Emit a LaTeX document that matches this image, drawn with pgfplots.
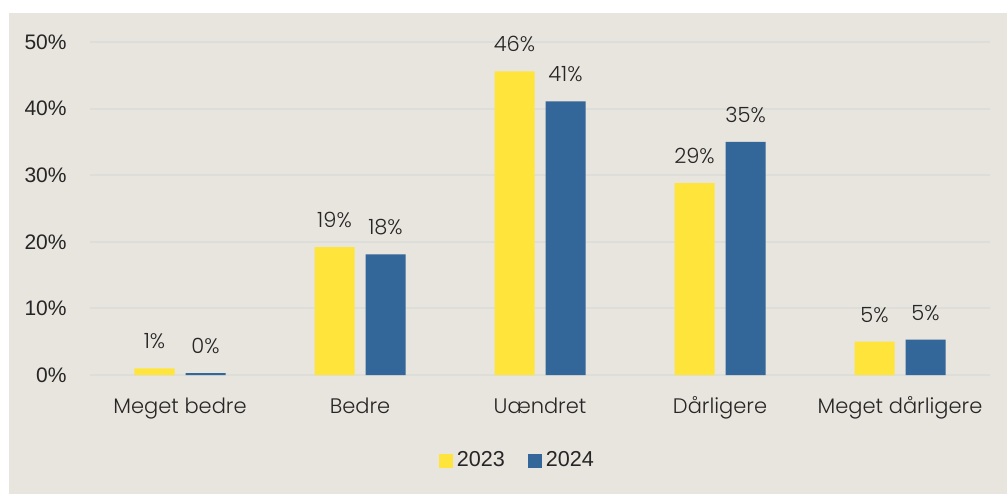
\documentclass[border=0pt]{standalone}
\usepackage{fontspec}
\setmainfont{Poppins}[UprightFont=* Light]
\newfontfamily\lib{Liberation Sans}
\usepackage{pgfplots}
\pgfplotsset{compat=1.18}
\definecolor{bg}{HTML}{E8E4DE}
\definecolor{gridc}{HTML}{DDDDDA}
\definecolor{yel}{HTML}{FFE53B}
\definecolor{blu}{HTML}{336699}
\definecolor{txt}{HTML}{262626}
\pgfplotsset{sq legend/.style={legend image code/.code={\fill[##1] (0pt,-3.5pt) rectangle (7pt,3.5pt);}}}
\begin{document}
\begin{tikzpicture}[x=0.5pt,y=0.5pt]
\path[use as bounding box] (0,0) rectangle (1007,494);
\fill[bg] (9,0) rectangle (1007,481);
\begin{axis}[
  at={(45pt,59.5pt)}, anchor=south west,
  scale only axis, width=450pt, height=166.5pt,
  ybar=5.5pt, bar width=20pt,
  xmin=-0.5, xmax=4.5, ymin=0, ymax=50,
  enlargelimits=false, clip=false,
  axis line style={draw=none},
  ymajorgrids, grid style={gridc, line width=1pt},
  xtick=data,
  xticklabels={Meget bedre, Bedre, Uændret, Dårligere, Meget dårligere},
  ytick={0,10,20,30,40,50},
  yticklabels={0\%,10\%,20\%,30\%,40\%,50\%},
  major tick length=0pt,
  xticklabel style={font=\fontsize{10.5}{12}\selectfont, text=txt, anchor=base, yshift=-19pt},
  yticklabel style={font=\lib\fontsize{10.5}{12}\selectfont, text=txt, anchor=east, inner sep=0pt, xshift=-11.5pt},
  nodes near coords={\pgfmathprintnumber[fixed,precision=0,assume math mode=true]{\pgfplotspointmeta}\%},
  every node near coord/.append style={font=\fontsize{10.5}{12}\selectfont, text=txt, anchor=south, inner sep=0pt, yshift=9.5pt},
  legend style={at={(0.476,-0.258)}, anchor=center, legend columns=-1, draw=none, fill=none,
    font=\lib\fontsize{10.8}{12}\selectfont, text=txt,
    /tikz/every even column/.append style={column sep=9.5pt}},
]
\addplot[fill=yel, draw=none, sq legend]
  coordinates {(0,1.0)(1,19.2)(2,45.6)(3,28.8)(4,5.0)};
\addlegendentry{2023}
\addplot[fill=blu, draw=none, sq legend]
  coordinates {(0,0.3)(1,18.1)(2,41.1)(3,35.0)(4,5.3)};
\addlegendentry{2024}
\end{axis}
\end{tikzpicture}
\end{document}
